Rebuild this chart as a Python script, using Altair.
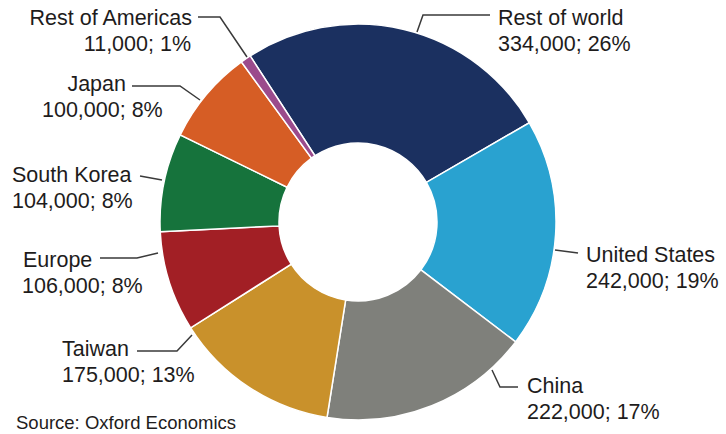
import math
import altair as alt
import pandas as pd

# ---- data ----
categories = ["Rest of world", "United States", "China", "Taiwan",
              "Europe", "South Korea", "Japan", "Rest of Americas"]
values = [334000, 242000, 222000, 175000, 106000, 104000, 100000, 11000]
shares = [26, 19, 17, 13, 8, 8, 8, 1]
colors = ["#1b3060", "#29a2d0", "#7f807b", "#c9912b",
          "#a21f25", "#16733c", "#d65d25", "#9b4b8c"]
source_note = "Source: Oxford Economics"

# ---- layout (annotation placement only) ----
CX, CY = 358, 222
R_OUT, R_IN = 198, 79
START = math.radians(-33)
W, H = 726, 434
FONT = "Liberation Sans"
FS = 21.5
STEP = 25.5

# label: (x1, align1, x2, align2, baseline of first line, leader polyline)
label_layout = {
    "Rest of world":    (498, "left", 498, "left", 25, [(490, 15), (423, 15), (417, 32)]),
    "United States":    (586, "left", 586, "left", 262, [(555, 250), (578, 253)]),
    "China":            (527, "left", 527, "left", 393, [(492, 370), (500, 387), (518, 387)]),
    "Taiwan":           (62, "left", 62, "left", 356, [(137, 351), (177, 351), (192, 335)]),
    "Europe":           (23, "left", 22, "left", 267, [(100, 258), (137, 258), (158, 253)]),
    "South Korea":      (12, "left", 12, "left", 182, [(140, 176), (162, 180)]),
    "Japan":            (126, "right", 42, "left", 91, [(132, 86), (180, 86), (200, 100)]),
    "Rest of Americas": (192, "right", 191, "right", 25, [(198, 17), (220, 17), (247, 57)]),
}

slices = pd.DataFrame({
    "category": categories,
    "value": values,
    "idx": list(range(len(categories))),
})

text_rows = []
line_rows = []
for cat, val, sh in zip(categories, values, shares):
    x1, a1, x2, a2, yb, pts = label_layout[cat]
    text_rows.append({"t": cat, "x": x1, "y": yb, "align": a1})
    text_rows.append({"t": f"{val:,}; {sh}%", "x": x2, "y": yb + STEP, "align": a2})
    for i, (px, py) in enumerate(pts):
        line_rows.append({"label": cat, "i": i, "x": px, "y": py})
texts = pd.DataFrame(text_rows)
lines = pd.DataFrame(line_rows)

xs = alt.Scale(domain=[0, W], nice=False, zero=False)
ys = alt.Scale(domain=[0, H], nice=False, zero=False, reverse=True)

arcs = alt.Chart(slices).mark_arc(
    outerRadius=R_OUT, innerRadius=R_IN, stroke="white", strokeWidth=1.5
).encode(
    theta=alt.Theta("value:Q", stack=True,
                    scale=alt.Scale(range=[START, START + 2 * math.pi])),
    order=alt.Order("idx:Q"),
    color=alt.Color("category:N", scale=alt.Scale(domain=categories, range=colors),
                    legend=None),
    x=alt.value(CX),
    y=alt.value(CY),
)

leaders = alt.Chart(lines).mark_line(color="#3a3a3a", strokeWidth=1.5).encode(
    x=alt.X("x:Q", scale=xs, axis=None),
    y=alt.Y("y:Q", scale=ys, axis=None),
    detail="label:N",
    order="i:Q",
)

def text_layer(align):
    return alt.Chart(texts).transform_filter(
        alt.datum.align == align
    ).mark_text(
        align=align, baseline="alphabetic", font=FONT, fontSize=FS, color="#1e1c1c"
    ).encode(
        x=alt.X("x:Q", scale=xs, axis=None),
        y=alt.Y("y:Q", scale=ys, axis=None),
        text="t:N",
    )

src = alt.Chart(pd.DataFrame({"t": [source_note], "x": [16], "y": [429]})).mark_text(
    align="left", baseline="alphabetic", font=FONT, fontSize=18.5, color="#1e1c1c"
).encode(
    x=alt.X("x:Q", scale=xs, axis=None),
    y=alt.Y("y:Q", scale=ys, axis=None),
    text="t:N",
)

chart = alt.layer(arcs, leaders, text_layer("left"), text_layer("right"), src).properties(
    width=W, height=H, padding=0,
    autosize=alt.AutoSizeParams(type="none"),
    background="white",
).configure_view(stroke=None)

chart.save("out.html", embed_options={"renderer": "svg", "actions": False})
